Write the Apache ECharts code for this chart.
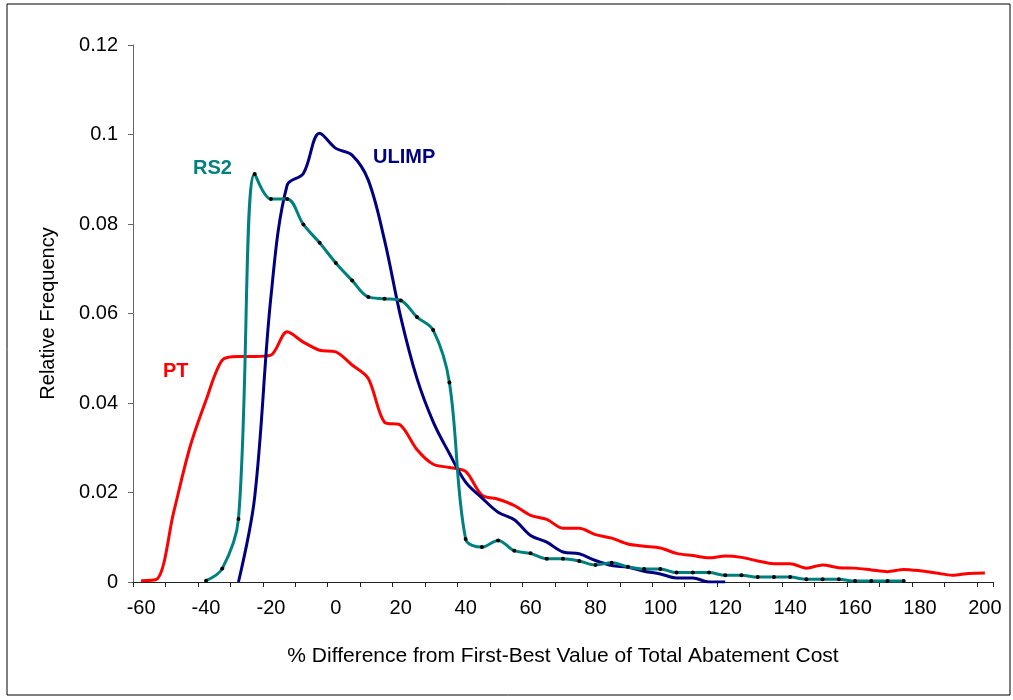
<!DOCTYPE html>
<html>
<head>
<meta charset="utf-8">
<script src="https://cdn.jsdelivr.net/npm/echarts@6/dist/echarts.min.js"></script>
<style>
    html, body { margin: 0; padding: 0; background: #fff; }
    #chart { width: 1013px; height: 700px; }
</style>
</head>
<body>
<div id="chart"></div>
<script>
// x categories, one every 5 %
let categories = [
    -60, -55, -50, -45, -40, -35, -30, -25, -20, -15, -10, -5, 0, 5, 10, 15, 20, 25, 30, 35,
    40, 45, 50, 55, 60, 65, 70, 75, 80, 85, 90, 95, 100, 105, 110, 115, 120, 125, 130, 135,
    140, 145, 150, 155, 160, 165, 170, 175, 180, 185, 190, 195, 200
]

// PT from -60 to 200
let ptStart = -60
let ptValues = [
    0.0003, 0.0007, 0.0155, 0.0300, 0.0406, 0.0496, 0.0504, 0.0504, 0.0507, 0.0559,
    0.0536, 0.0518, 0.0514, 0.0485, 0.0455, 0.0357, 0.0350, 0.0296, 0.0263, 0.0256,
    0.0247, 0.0194, 0.0185, 0.0171, 0.0149, 0.0140, 0.0120, 0.0120, 0.0106, 0.0098,
    0.0085, 0.0080, 0.0076, 0.0064, 0.0059, 0.0054, 0.0058, 0.0055, 0.0047, 0.0041,
    0.0041, 0.0031, 0.0038, 0.0032, 0.0031, 0.0027, 0.0023, 0.0028, 0.0025, 0.0020,
    0.0015, 0.0019, 0.0020
]

// RS2 from -40 to 175
let rs2Start = -40
let rs2Values = [
    0.0003, 0.0030, 0.0141, 0.0912, 0.0856, 0.0856, 0.0799, 0.0758, 0.0713, 0.0674,
    0.0637, 0.0633, 0.0629, 0.0592, 0.0563, 0.0446, 0.0096, 0.0078, 0.0093, 0.0070,
    0.0064, 0.0052, 0.0052, 0.0047, 0.0038, 0.0043, 0.0034, 0.0029, 0.0029, 0.0021,
    0.0021, 0.0021, 0.0015, 0.0015, 0.0011, 0.0011, 0.0011, 0.0006, 0.0006, 0.0006,
    0.0002, 0.0002, 0.0002, 0.0002
]

// ULIMP from -30 to 120
let ulimpStart = -30
let ulimpValues = [
    0.0000, 0.0190, 0.0637, 0.0887, 0.0913, 0.1003, 0.0969, 0.0954, 0.0898, 0.0764,
    0.0592, 0.0455, 0.0358, 0.0287, 0.0223, 0.0188, 0.0156, 0.0139, 0.0104, 0.0089,
    0.0067, 0.0063, 0.0048, 0.0037, 0.0033, 0.0024, 0.0018, 0.0009, 0.0009, 0.0000,
    0.0000
]

// y ticks
let yMin = 0
let yMax = 0.12
let yStep = 0.02

function padSeries(start, values) {
    let offset = categories.indexOf(start)
    let data = []
    for (let i = 0; i < categories.length; i++) {
        let k = i - offset
        data.push(k >= 0 && k < values.length ? values[k] : null)
    }
    return data
}

let myChart = echarts.init(document.getElementById('chart'), null, { renderer: 'canvas' })

let fontName = 'Liberation Sans, Arial, sans-serif'

let option = {
    backgroundColor: '#fff',
    animation: false,
    grid: {
        left: 133,
        right: 20,
        top: 45,
        bottom: 118
    },
    xAxis: {
        type: 'category',
        data: categories.map(String),
        boundaryGap: true,
        name: '% Difference from First-Best Value of Total Abatement Cost',
        nameLocation: 'middle',
        nameGap: 64,
        nameTextStyle: { color: '#000', fontSize: 21, fontFamily: fontName },
        axisLine: { lineStyle: { color: '#222', width: 1 } },
        axisTick: { show: true, interval: 1, length: 5, lineStyle: { color: '#222' } },
        axisLabel: { interval: 3, margin: 16, color: '#000', fontSize: 20, fontFamily: fontName },
        splitLine: { show: false }
    },
    yAxis: {
        type: 'value',
        min: yMin,
        max: yMax,
        interval: yStep,
        name: 'Relative Frequency',
        nameLocation: 'middle',
        nameGap: 75,
        nameRotate: 90,
        nameTextStyle: { color: '#000', fontSize: 20, fontFamily: fontName },
        axisLine: { show: true, lineStyle: { color: '#666', width: 1 } },
        axisTick: { show: true, length: 5, lineStyle: { color: '#666' } },
        axisLabel: { margin: 15, color: '#000', fontSize: 20, fontFamily: fontName },
        splitLine: { show: false }
    },
    graphic: [
        {
            type: 'rect',
            shape: { x: 7, y: 4, width: 1003, height: 691 },
            style: { fill: 'none', stroke: '#000', lineWidth: 1 },
            silent: true
        },
        {
            type: 'text', left: 193, top: 158,
            style: { text: 'RS2', fill: '#008080', font: 'bold 20px ' + fontName }
        },
        {
            type: 'text', left: 373, top: 147,
            style: { text: 'ULIMP', fill: '#000080', font: 'bold 20px ' + fontName }
        },
        {
            type: 'text', left: 163, top: 361,
            style: { text: 'PT', fill: '#ff0000', font: 'bold 20px ' + fontName }
        }
    ],
    series: [
        {
            name: 'PT',
            type: 'line',
            data: padSeries(ptStart, ptValues),
            smooth: 0.3,
            showSymbol: false,
            lineStyle: { color: '#ff0000', width: 3 },
            itemStyle: { color: '#ff0000' }
        },
        {
            name: 'ULIMP',
            type: 'line',
            data: padSeries(ulimpStart, ulimpValues),
            smooth: 0.35,
            showSymbol: false,
            lineStyle: { color: '#000080', width: 3 },
            itemStyle: { color: '#000080' }
        },
        {
            name: 'RS2',
            type: 'line',
            data: padSeries(rs2Start, rs2Values),
            smooth: 0.35,
            symbol: 'circle',
            symbolSize: 4,
            showSymbol: true,
            showAllSymbol: true,
            lineStyle: { color: '#008080', width: 3 },
            itemStyle: { color: '#000', borderWidth: 0 }
        }
    ]
}

if (option && typeof option === 'object') {
    myChart.setOption(option, true)
}
</script>
</body>
</html>
